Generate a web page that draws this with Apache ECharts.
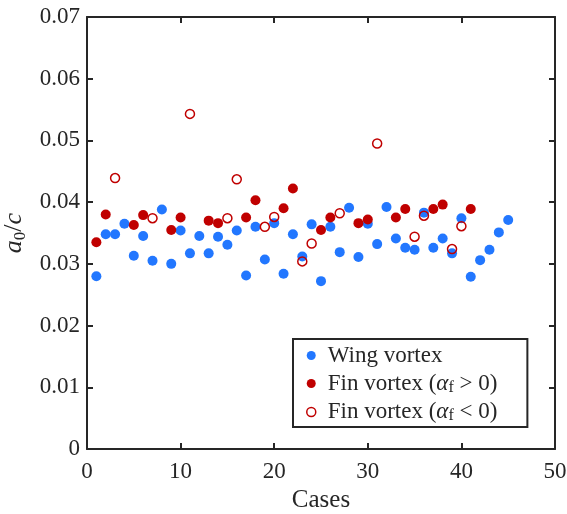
<!DOCTYPE html>
<html>
<head>
<meta charset="utf-8">
<script src="https://cdn.jsdelivr.net/npm/echarts@6/dist/echarts.min.js"></script>
<style>
  html, body { margin: 0; padding: 0; background: #fff; }
  #chart { width: 567px; height: 514px; }
</style>
</head>
<body>
<div id="chart"></div>
<script>
// Core size a0/c of each vortex, per test case
const wingCases = [1, 2, 3, 4, 5, 6, 7, 8, 9, 10, 11, 12, 13, 14, 15, 16, 17, 18, 19, 20,
  21, 22, 23, 24, 25, 26, 27, 28, 29, 30, 31, 32, 33, 34, 35, 36, 37, 38, 39, 40,
  41, 42, 43, 44, 45];
const wingA0 = [0.0280, 0.0348, 0.0348, 0.0365, 0.0313, 0.0345, 0.0305, 0.0388, 0.0300, 0.0354,
  0.0317, 0.0345, 0.0317, 0.0344, 0.0331, 0.0354, 0.0281, 0.0360, 0.0307, 0.0366,
  0.0284, 0.0348, 0.0312, 0.0364, 0.0272, 0.0360, 0.0319, 0.0391, 0.0311, 0.0365,
  0.0332, 0.0392, 0.0341, 0.0326, 0.0323, 0.0383, 0.0326, 0.0341, 0.0317, 0.0374,
  0.0279, 0.0306, 0.0323, 0.0351, 0.0371];

const finPosCases = [1, 2, 5, 6, 9, 10, 13, 14, 17, 18, 21, 22, 25, 26, 29, 30, 33, 34, 37, 38, 41];
const finPosA0 = [0.0335, 0.0380, 0.0363, 0.0379, 0.0355, 0.0375, 0.0370, 0.0366, 0.0375, 0.0403,
  0.0390, 0.0422, 0.0355, 0.0375, 0.0366, 0.0372, 0.0375, 0.0389, 0.0389, 0.0396, 0.0389];

const finNegCases = [3, 7, 11, 15, 16, 19, 20, 23, 24, 27, 31, 35, 36, 39, 40];
const finNegA0 = [0.0439, 0.0374, 0.0543, 0.0374, 0.0437, 0.0360, 0.0376, 0.0304, 0.0333, 0.0382,
  0.0495, 0.0344, 0.0378, 0.0324, 0.0361];

const xTicks = [0, 10, 20, 30, 40, 50];
const yTicks = ['0', '0.01', '0.02', '0.03', '0.04', '0.05', '0.06', '0.07'];

const seriesNames = ['Wing vortex', 'Fin vortex (αf > 0)', 'Fin vortex (αf < 0)'];

const FONT = '"Liberation Serif", "DejaVu Serif", serif';
const AXIS = '#262626';
const BLUE = '#2277ff';
const RED = '#c00000';

const zip = (xs, ys) => xs.map((x, i) => [x, ys[i]]);

const chart = echarts.init(document.getElementById('chart'), null, { renderer: 'canvas' });

const axisCommon = {
  axisLine: { show: true, onZero: false, lineStyle: { color: AXIS, width: 2 } },
  axisTick: { show: true, inside: true, length: 6, lineStyle: { color: AXIS, width: 2 } },
  splitLine: { show: false }
};

chart.setOption({
  animation: false,
  backgroundColor: '#ffffff',
  grid: { left: 87, right: 12, top: 17, bottom: 65, containLabel: false, outerBoundsMode: 'none' },
  xAxis: [
    Object.assign({
      type: 'value', min: 0, max: 50, interval: 10, position: 'bottom',
      name: 'Cases', nameLocation: 'middle', nameGap: 37,
      nameTextStyle: { fontFamily: FONT, fontSize: 25, color: AXIS },
      axisLabel: {
        margin: 11, fontFamily: FONT, fontSize: 23, color: AXIS,
        formatter: v => (xTicks.indexOf(v) >= 0 ? String(v) : '')
      }
    }, axisCommon),
    Object.assign({
      type: 'value', min: 0, max: 50, interval: 10, position: 'top',
      axisLabel: { show: false }
    }, axisCommon)
  ],
  yAxis: [
    Object.assign({
      type: 'value', min: 0, max: 0.07, interval: 0.01, position: 'left',
      name: '{i|a}{s|0}{n|/}{i|c}', nameLocation: 'middle', nameGap: 45,
      nameTextStyle: {
        fontFamily: FONT, fontSize: 24, color: AXIS,
        rich: {
          i: { fontFamily: FONT, fontStyle: 'italic', fontSize: 26, color: AXIS },
          s: { fontFamily: FONT, fontSize: 17, color: AXIS, verticalAlign: 'bottom', padding: [12, 0, 0, 0] },
          n: { fontFamily: FONT, fontSize: 26, color: AXIS }
        }
      },
      axisLabel: {
        margin: 7, fontFamily: FONT, fontSize: 23, color: AXIS,
        formatter: v => yTicks[Math.round(v * 100)]
      }
    }, axisCommon),
    Object.assign({
      type: 'value', min: 0, max: 0.07, interval: 0.01, position: 'right',
      axisLabel: { show: false }
    }, axisCommon)
  ],
  legend: {
    left: 293, top: 339,
    orient: 'vertical',
    backgroundColor: '#ffffff',
    borderColor: AXIS, borderWidth: 2, borderRadius: 0,
    padding: [5, 30, 3, 13],
    itemGap: 5,
    itemWidth: 9, itemHeight: 9,
    textStyle: {
      fontFamily: FONT, fontSize: 23, color: AXIS, padding: [0, 0, 0, 7],
      rich: {
        t: { fontFamily: FONT, fontSize: 23, color: AXIS },
        a: { fontFamily: FONT, fontStyle: 'italic', fontSize: 23, color: AXIS },
        f: { fontFamily: FONT, fontSize: 16, color: AXIS, verticalAlign: 'bottom', padding: [8, 0, 0, 0] }
      }
    },
    formatter: name => {
      if (name === seriesNames[1]) return '{t|Fin vortex (}{a|α}{f|f}{t| > 0)}';
      if (name === seriesNames[2]) return '{t|Fin vortex (}{a|α}{f|f}{t| < 0)}';
      return '{t|' + name + '}';
    },
    data: [
      { name: seriesNames[0], icon: 'circle' },
      { name: seriesNames[1], icon: 'circle' },
      { name: seriesNames[2], icon: 'circle', itemStyle: { color: 'rgba(0,0,0,0)', borderColor: RED, borderWidth: 1.5 } }
    ]
  },
  series: [
    {
      name: seriesNames[0], type: 'scatter', xAxisIndex: 0, yAxisIndex: 0,
      symbol: 'circle', symbolSize: 10,
      itemStyle: { color: BLUE, opacity: 1 },
      data: zip(wingCases, wingA0), z: 2
    },
    {
      name: seriesNames[1], type: 'scatter', xAxisIndex: 0, yAxisIndex: 0,
      symbol: 'circle', symbolSize: 10,
      itemStyle: { color: RED, opacity: 1 },
      data: zip(finPosCases, finPosA0), z: 3
    },
    {
      name: seriesNames[2], type: 'scatter', xAxisIndex: 0, yAxisIndex: 0,
      symbol: 'circle', symbolSize: 9,
      itemStyle: { color: 'rgba(0,0,0,0)', borderColor: RED, borderWidth: 1.5, opacity: 1 },
      data: zip(finNegCases, finNegA0), z: 4
    }
  ]
});
</script>
</body>
</html>
